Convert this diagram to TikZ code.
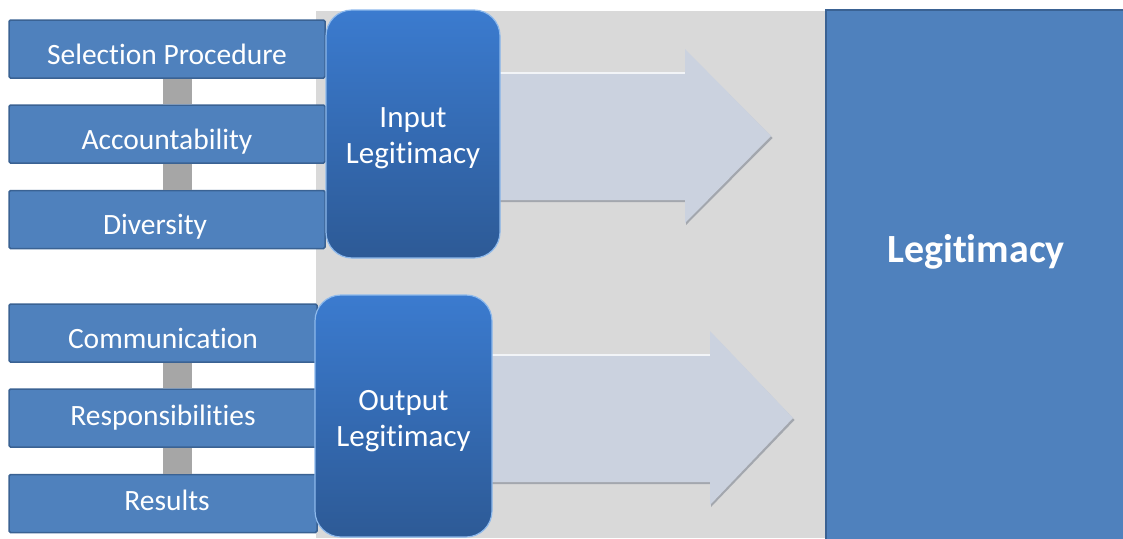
\documentclass[tikz,border=0pt]{standalone}
\usepackage{fontspec}
\setmainfont{Carlito}[Ligatures=NoCommon]
\usepackage{xcolor}
\definecolor{boxblue}{HTML}{4F81BD}
\definecolor{boxedge}{HTML}{3A6293}
\definecolor{legtop}{HTML}{3B7BCF}
\definecolor{legbottom}{HTML}{2D5A96}
\definecolor{legedge}{HTML}{8DB9EC}
\definecolor{panel}{HTML}{D9D9D9}
\definecolor{linkgray}{HTML}{A6A6A6}
\definecolor{arrowfill}{HTML}{CBD2DF}
\definecolor{arrowshade}{HTML}{A3A7AE}

\tikzset{
	item/.style={draw=boxedge, line width=1.5pt, fill=boxblue, text=white, rounded corners=1.5pt,
		minimum height=58pt, inner sep=0pt, text height=30pt, text depth=0pt, font=\fontsize{29.5}{33}\selectfont},
	itemmid/.style={item, text height=20pt, text depth=6pt},
	legbox/.style={draw=legedge, line width=1.2pt, top color=legtop, bottom color=legbottom,
		rounded corners=26pt, inner sep=0pt},
	legtext/.style={text=white, align=center, inner sep=0pt, font=\fontsize{31}{36}\selectfont},
	bigbox/.style={draw=boxedge, line width=2pt, fill=boxblue, inner sep=0pt},
	bigtext/.style={text=white, font=\fontsize{40}{44}\selectfont\bfseries},
	linkbar/.style={linkgray, line width=29pt},
}

\begin{document}
\begin{tikzpicture}[x=1pt, y=-1pt]
	\useasboundingbox (0,0) rectangle (1123,538);
	\clip (0,0) rectangle (1123,538);

	% grey panel
	\fill[panel] (316,11) rectangle (1123,538);

	% arrows: centre / head base / tip / start
	\foreach \c/\b/\t/\s in {136/685/771/490, 418/710/793/480}{
		\fill[arrowshade] (\s+1,\c-62) -- (\b+1,\c-62) -- (\b+1,\c-85) -- (\t+1.5,\c+2) -- (\b+1,\c+89) -- (\b+1,\c+66) -- (\s+1,\c+66) -- cycle;
		\fill[arrowfill] (\s,\c-64) -- (\b,\c-64) -- (\b,\c-87) -- (\t,\c) -- (\b,\c+87) -- (\b,\c+64) -- (\s,\c+64) -- cycle;
		\draw[white!75!arrowfill, line width=2pt] (\s,\c-63) -- (\b,\c-63);
	}

	% legitimacy
	\node[bigbox, minimum width=300pt, minimum height=530pt] (legit) at (976,275) {};
	\node[bigtext] (legtxt) at ([yshift=23pt]legit.center) {Legitimacy};

	% input side
	\node[item, minimum width=316pt] (sel) at (167,49) {Selection Procedure};
	\node[item, minimum width=316pt] (acc) at (167,134) {Accountability};
	\node[item, minimum width=316pt] (div) at (167,219.5) {\hspace*{-24pt}Diversity};
	\draw[linkbar] ([xshift=10.5pt]sel.south) -- ([xshift=10.5pt]acc.north);
	\draw[linkbar] ([xshift=10.5pt]acc.south) -- ([xshift=10.5pt]div.north);
	\node[legbox, minimum width=174pt, minimum height=248pt] (inp) at (413,134) {};
	\node[legtext] (inptxt) at ([yshift=-4pt]inp.center) {Input\\Legitimacy};

	% output side
	\node[item, minimum width=308pt] (com) at (163,333) {Communication};
	\node[itemmid, minimum width=308pt] (res) at (163,418) {Responsibilities};
	\node[itemmid, minimum width=308pt] (rlt) at (163,503.5) {\hspace*{8pt}Results};
	\draw[linkbar] ([xshift=14.5pt]com.south) -- ([xshift=14.5pt]res.north);
	\draw[linkbar] ([xshift=14.5pt]res.south) -- ([xshift=14.5pt]rlt.north);
	\node[legbox, minimum width=177pt, minimum height=242pt] (outp) at (403.5,416) {};
	\node[legtext] (outtxt) at ([yshift=-5pt]outp.center) {Output\\Legitimacy};
\end{tikzpicture}
\end{document}
